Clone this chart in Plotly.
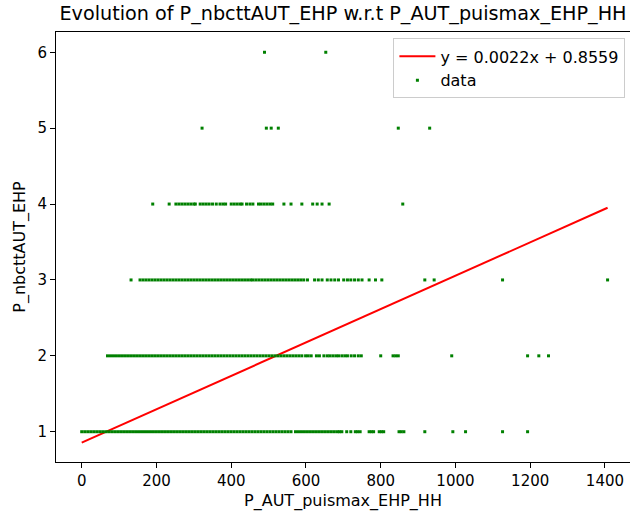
import plotly.graph_objects as go

# ---- data ----
x_level1 = [0, 8, 16, 24, 32, 40, 48, 56, 64, 72, 80, 88, 96, 104, 112, 120, 128, 136, 144, 152,
            160, 168, 176, 184, 192, 200, 208, 216, 224, 232, 240, 248, 256, 264, 272, 280, 288,
            296, 304, 312, 320, 328, 336, 344, 352, 360, 368, 376, 384, 392, 400, 408, 416, 424,
            432, 440, 448, 456, 464, 472, 480, 488, 496, 504, 512, 520, 528, 536, 544, 552, 560,
            572, 580, 588, 596, 604, 612, 620, 628, 636, 644, 652, 660, 668, 676, 684, 690, 696,
            709, 720, 732, 738, 745, 769, 775, 781, 796, 802, 808, 849, 855, 862, 918, 993, 1027,
            1126, 1193]
x_level2 = [69, 77, 85, 93, 101, 109, 117, 125, 133, 141, 149, 157, 165, 173, 181, 189, 197, 205,
            213, 221, 229, 237, 245, 253, 261, 269, 277, 285, 293, 301, 309, 317, 325, 333, 341,
            349, 357, 365, 373, 381, 389, 397, 405, 413, 421, 429, 437, 445, 453, 461, 469, 477,
            485, 493, 501, 509, 517, 525, 533, 541, 549, 557, 565, 573, 581, 589,
            599, 606, 614, 628, 636, 648, 657, 664, 672, 680, 687, 696, 704, 711, 721, 730, 740,
            748, 800, 833, 840, 847, 990, 1193, 1223, 1249]
x_level3 = [132, 156, 164, 172, 180, 188, 196, 204, 212, 220, 228, 236, 244, 252, 260, 268, 276,
            284, 292, 300, 308, 316, 324, 332, 340, 348, 356, 364, 372, 380, 388, 396, 404, 412,
            420, 428, 436, 444, 452, 458, 466, 474, 482, 490, 498, 506, 514, 522, 530, 538, 546,
            554, 562, 570, 578, 586, 594, 604, 623, 633, 643, 657, 667, 677, 687, 701, 711, 720,
            730, 740, 750, 769, 786, 803, 918, 943, 1126, 1407]
x_level4 = [190, 234, 252, 260, 268, 276, 284, 292, 300, 304, 317, 325, 333, 341, 350, 360, 370,
            378, 385, 400, 408, 416, 424, 429, 441, 450, 458, 473, 480, 488, 496, 504, 511, 541,
            560, 589, 618, 630, 643, 662, 859]
x_level5 = [322, 494, 507, 526, 847, 931]
x_level6 = [489, 653]

slope = 0.0022
intercept = 0.8559

xs = x_level1 + x_level2 + x_level3 + x_level4 + x_level5 + x_level6
ys = ([1] * len(x_level1) + [2] * len(x_level2) + [3] * len(x_level3) +
      [4] * len(x_level4) + [5] * len(x_level5) + [6] * len(x_level6))

x_fit = [min(xs), max(xs)]
y_fit = [slope * v + intercept for v in x_fit]

FONT = "DejaVu Sans"

fig = go.Figure()
fig.add_trace(go.Scatter(
    x=x_fit, y=y_fit, mode="lines",
    line=dict(color="red", width=2),
    name=f"y = {slope:.4f}x + {intercept:.4f}",
))
fig.add_trace(go.Scatter(
    x=xs, y=ys, mode="markers",
    marker=dict(color="green", size=3, symbol="square", line=dict(width=0)),
    name="data",
))

fig.update_layout(
    width=630, height=515,
    margin=dict(l=56, r=0, t=32, b=53),
    paper_bgcolor="white", plot_bgcolor="white",
    font=dict(family=FONT, size=15, color="black"),
    title=dict(text="Evolution of P_nbcttAUT_EHP w.r.t P_AUT_puismax_EHP_HH",
               font=dict(family=FONT, size=19.2, color="black"),
               x=0.5, xanchor="center", xref="paper", y=0.988, yanchor="top"),
    showlegend=True,
    legend=dict(x=0.992, y=0.985, xanchor="right", yanchor="top",
                bgcolor="white", bordercolor="#cccccc", borderwidth=1,
                font=dict(family=FONT, size=16, color="black"),
                itemwidth=36, tracegroupgap=0),
)
fig.update_xaxes(
    range=[-68.8, 1467], showgrid=False, zeroline=False,
    showline=True, linecolor="black", linewidth=1, mirror=True,
    ticks="outside", ticklen=5, tickcolor="black", tickwidth=1,
    tickvals=[0, 200, 400, 600, 800, 1000, 1200, 1400],
    tickfont=dict(family=FONT, size=15, color="black"),
    title=dict(text="P_AUT_puismax_EHP_HH", font=dict(family=FONT, size=16, color="black"), standoff=5),
)
fig.update_yaxes(
    range=[0.601, 6.267], showgrid=False, zeroline=False,
    showline=True, linecolor="black", linewidth=1, mirror=False,
    ticks="outside", ticklen=5, tickcolor="black", tickwidth=1,
    tickvals=[1, 2, 3, 4, 5, 6],
    tickfont=dict(family=FONT, size=15, color="black"),
    title=dict(text="P_nbcttAUT_EHP", font=dict(family=FONT, size=16, color="black"), standoff=7),
)

fig.write_html("out.html")
